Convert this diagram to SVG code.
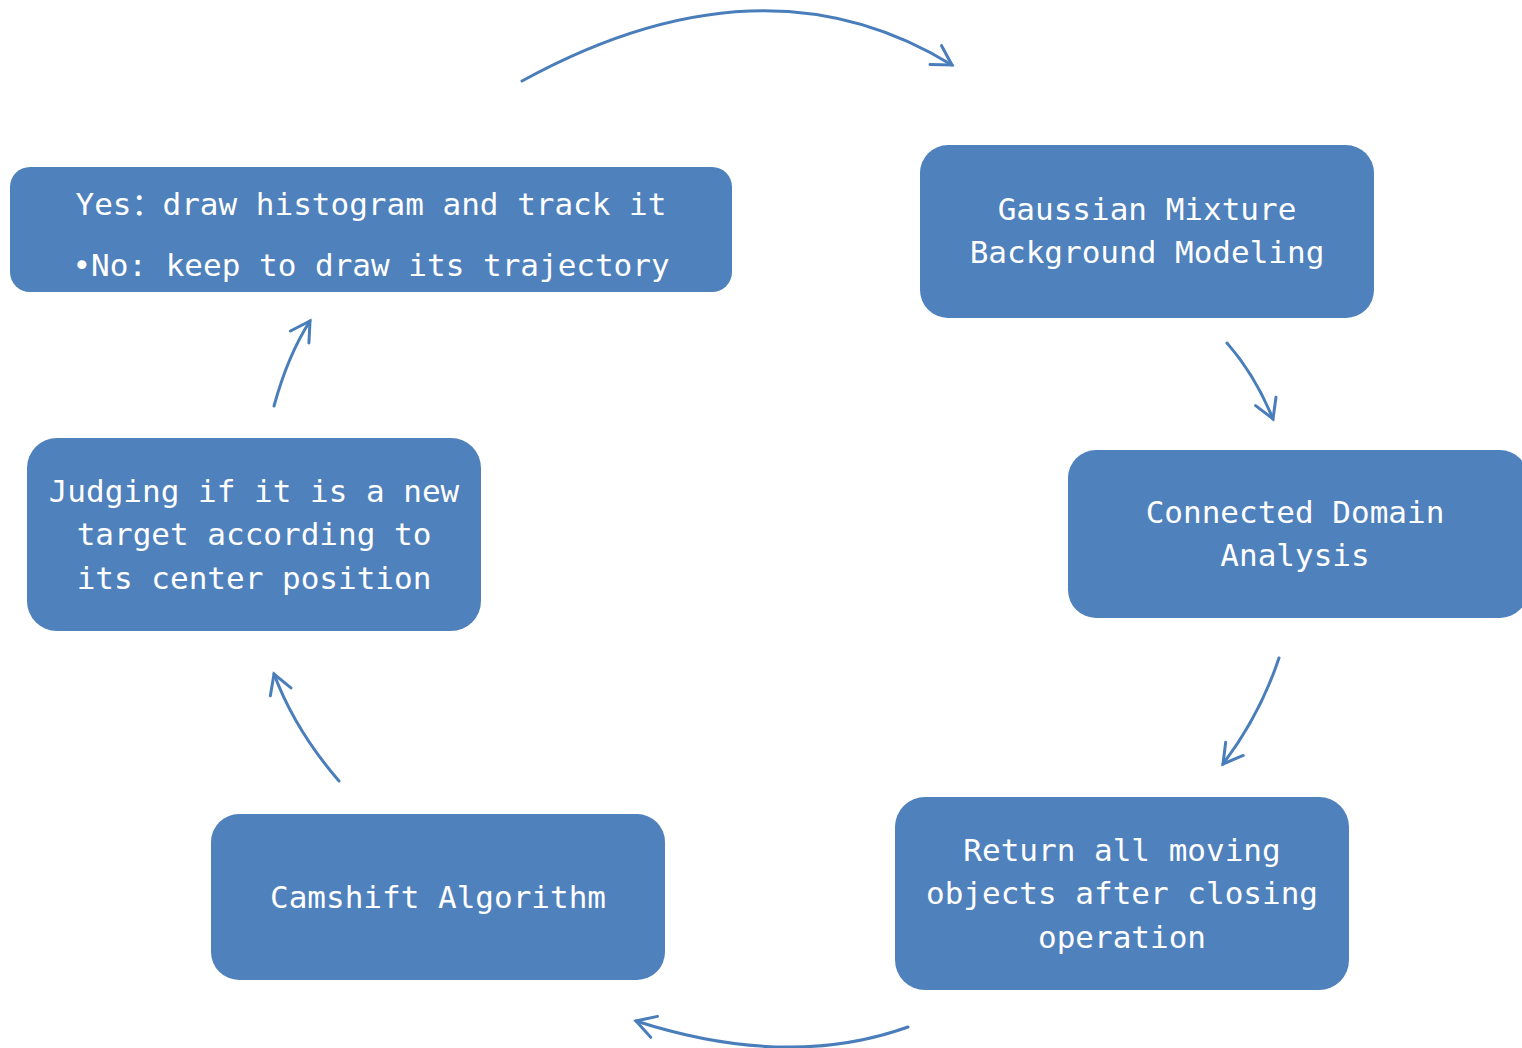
<svg xmlns="http://www.w3.org/2000/svg" width="1522" height="1048" viewBox="0 0 1522 1048">
<style>
.box{fill:#4F81BD;}
.t{font-family:"DejaVu Sans Mono","Noto Sans CJK SC",monospace;font-size:31px;fill:#FFFFFF;text-anchor:middle;}
.c{fill:none;stroke:#4A7EBB;stroke-width:3;stroke-linecap:round;}
</style>
<defs>
<marker id="ah" markerUnits="userSpaceOnUse" viewBox="-22 -14 26 28" refX="0" refY="0" markerWidth="26" markerHeight="28" orient="auto">
<path d="M-19,-11 L0,0 L-19,11" fill="none" stroke="#4A7EBB" stroke-width="3" stroke-linecap="round" stroke-linejoin="miter"/>
</marker>
</defs>
<rect width="1522" height="1048" fill="#FFFFFF"/>
<g id="n-yes">
<rect class="box" x="10" y="167" width="722" height="125" rx="20"/>
<text class="t" x="371" y="215">Yes：draw histogram and track it</text>
<text class="t" x="371" y="276">•No: keep to draw its trajectory</text>
</g>
<g id="n-gaussian">
<rect class="box" x="920" y="145" width="454" height="173" rx="28"/>
<text class="t" x="1147" y="220">Gaussian Mixture</text>
<text class="t" x="1147" y="263">Background Modeling</text>
</g>
<g id="n-connected">
<rect class="box" x="1068" y="450" width="460" height="168" rx="28"/>
<text class="t" x="1295" y="523">Connected Domain</text>
<text class="t" x="1295" y="566">Analysis</text>
</g>
<g id="n-return">
<rect class="box" x="895" y="797" width="454" height="193" rx="30"/>
<text class="t" x="1122" y="861">Return all moving</text>
<text class="t" x="1122" y="904">objects after closing</text>
<text class="t" x="1122" y="948">operation</text>
</g>
<g id="n-camshift">
<rect class="box" x="211" y="814" width="454" height="166" rx="28"/>
<text class="t" x="438" y="908">Camshift Algorithm</text>
</g>
<g id="n-judging">
<rect class="box" x="27" y="438" width="454" height="193" rx="30"/>
<text class="t" x="254" y="502">Judging if it is a new</text>
<text class="t" x="254" y="545">target according to</text>
<text class="t" x="254" y="589">its center position</text>
</g>
<g id="connectors">
<path class="c" marker-end="url(#ah)" d="M522,81 Q763,-51 952,65"/>
<path class="c" marker-end="url(#ah)" d="M1227,343 Q1255,375 1273,419"/>
<path class="c" marker-end="url(#ah)" d="M1279,658 Q1260,715 1223,764"/>
<path class="c" marker-end="url(#ah)" d="M908,1027 Q788,1070 636,1021"/>
<path class="c" marker-end="url(#ah)" d="M339,781 Q295,730 274,674"/>
<path class="c" marker-end="url(#ah)" d="M274,406 Q288,355 310,321"/>
</g>
</svg>
